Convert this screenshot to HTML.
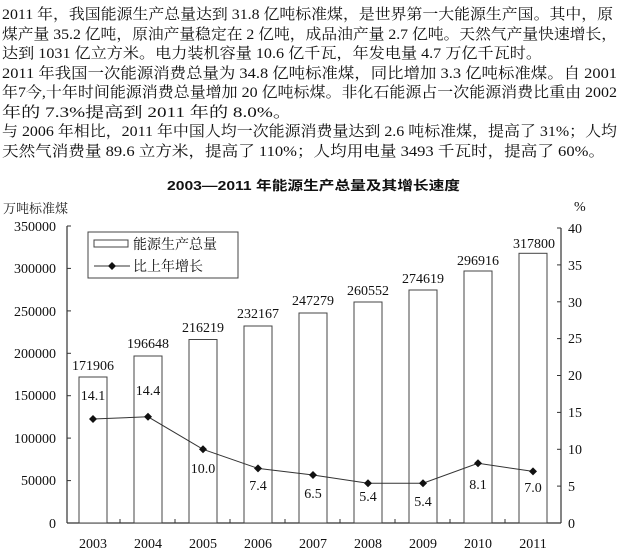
<!DOCTYPE html>
<html><head><meta charset="utf-8"><style>
html,body{margin:0;padding:0;background:#fff;}
svg{display:block;}
.t{font-family:"Liberation Serif","Noto Serif CJK SC","Noto Sans CJK SC",serif;font-size:15px;fill:#111;}
.n{font-family:"Liberation Serif",serif;font-size:14px;fill:#111;}
</style></head><body>
<svg width="620" height="556" viewBox="0 0 620 556" xmlns="http://www.w3.org/2000/svg">
<g class="t">
<text x="2" y="19" textLength="611" lengthAdjust="spacingAndGlyphs">2011 年，我国能源生产总量达到 31.8 亿吨标准煤，是世界第一大能源生产国。其中，原</text>
<text x="2" y="39" textLength="615" lengthAdjust="spacingAndGlyphs">煤产量 35.2 亿吨，原油产量稳定在 2 亿吨，成品油产量 2.7 亿吨。天然气产量快速增长，</text>
<text x="2" y="58" textLength="540" lengthAdjust="spacingAndGlyphs">达到 1031 亿立方米。电力装机容量 10.6 亿千瓦，年发电量 4.7 万亿千瓦时。</text>
<text x="2" y="78" textLength="615" lengthAdjust="spacingAndGlyphs">2011 年我国一次能源消费总量为 34.8 亿吨标准煤，同比增加 3.3 亿吨标准煤。自 2001</text>
<text x="2" y="97" textLength="615" lengthAdjust="spacingAndGlyphs">年7今,十年时间能源消费总量增加 20 亿吨标煤。非化石能源占一次能源消费比重由 2002</text>
<text x="2" y="117" textLength="290" lengthAdjust="spacingAndGlyphs">年的 7.3%提高到 2011 年的 8.0%。</text>
<text x="2" y="136" textLength="615" lengthAdjust="spacingAndGlyphs">与 2006 年相比，2011 年中国人均一次能源消费量达到 2.6 吨标准煤，提高了 31%；人均</text>
<text x="2" y="156" textLength="603" lengthAdjust="spacingAndGlyphs">天然气消费量 89.6 立方米，提高了 110%；人均用电量 3493 千瓦时，提高了 60%。</text>
</g>
<text x="167" y="190" textLength="293" lengthAdjust="spacingAndGlyphs" style="font-family:'Liberation Sans','Noto Sans CJK SC',sans-serif;font-size:13px;font-weight:bold;fill:#111">2003—2011 年能源生产总量及其增长速度</text>
<text x="3" y="213" style="font-family:'Noto Serif CJK SC',serif;font-size:13px;fill:#222">万吨标准煤</text>
<text x="574" y="211" class="n">%</text>
<!-- axes -->
<g stroke="#333" stroke-width="1.2" fill="none">
<line x1="67" y1="226" x2="67" y2="523"/>
<line x1="67" y1="523" x2="561" y2="523"/>
<line x1="561" y1="228" x2="561" y2="523"/>
</g>
<g stroke="#333" stroke-width="1">
<line x1="67" y1="226" x2="71" y2="226"/><line x1="67" y1="268.4" x2="71" y2="268.4"/><line x1="67" y1="310.9" x2="71" y2="310.9"/><line x1="67" y1="353.3" x2="71" y2="353.3"/><line x1="67" y1="395.7" x2="71" y2="395.7"/><line x1="67" y1="438.1" x2="71" y2="438.1"/><line x1="67" y1="480.6" x2="71" y2="480.6"/>
<line x1="557" y1="228" x2="561" y2="228"/><line x1="557" y1="264.9" x2="561" y2="264.9"/><line x1="557" y1="301.8" x2="561" y2="301.8"/><line x1="557" y1="338.6" x2="561" y2="338.6"/><line x1="557" y1="375.5" x2="561" y2="375.5"/><line x1="557" y1="412.4" x2="561" y2="412.4"/><line x1="557" y1="449.3" x2="561" y2="449.3"/><line x1="557" y1="486.1" x2="561" y2="486.1"/>
<line x1="120" y1="519" x2="120" y2="523"/><line x1="175" y1="519" x2="175" y2="523"/><line x1="230" y1="519" x2="230" y2="523"/><line x1="285" y1="519" x2="285" y2="523"/><line x1="340" y1="519" x2="340" y2="523"/><line x1="395" y1="519" x2="395" y2="523"/><line x1="450" y1="519" x2="450" y2="523"/><line x1="505" y1="519" x2="505" y2="523"/>
</g>
<g class="n" text-anchor="end">
<text x="56" y="231">350000</text><text x="56" y="273">300000</text><text x="56" y="316">250000</text><text x="56" y="358">200000</text><text x="56" y="400">150000</text><text x="56" y="443">100000</text><text x="56" y="485">50000</text><text x="56" y="528">0</text>
</g>
<g class="n">
<text x="568" y="233">40</text><text x="568" y="270">35</text><text x="568" y="307">30</text><text x="568" y="343">25</text><text x="568" y="380">20</text><text x="568" y="417">15</text><text x="568" y="454">10</text><text x="568" y="491">5</text><text x="568" y="528">0</text>
</g>
<!-- bars -->
<g fill="#fff" stroke="#444" stroke-width="1">
<rect x="79" y="377" width="28" height="146"/>
<rect x="134" y="356" width="28" height="167"/>
<rect x="189" y="339.5" width="28" height="183.5"/>
<rect x="244" y="326" width="28" height="197"/>
<rect x="299" y="313" width="28" height="210"/>
<rect x="354" y="302" width="28" height="221"/>
<rect x="409" y="290" width="28" height="233"/>
<rect x="464" y="271" width="28" height="252"/>
<rect x="519" y="253.3" width="28" height="269.7"/>
</g>
<g class="n" text-anchor="middle">
<text x="93" y="370">171906</text><text x="148" y="348">196648</text><text x="203" y="332">216219</text><text x="258" y="318">232167</text><text x="313" y="305">247279</text><text x="368" y="295">260552</text><text x="423" y="283">274619</text><text x="478" y="265">296916</text><text x="534" y="248">317800</text>
<text x="93" y="400">14.1</text><text x="148" y="395">14.4</text><text x="203" y="473">10.0</text><text x="258" y="490">7.4</text><text x="313" y="498">6.5</text><text x="368" y="501">5.4</text><text x="423" y="506">5.4</text><text x="478" y="489">8.1</text><text x="533" y="492">7.0</text>
<text x="93" y="548">2003</text><text x="148" y="548">2004</text><text x="203" y="548">2005</text><text x="258" y="548">2006</text><text x="313" y="548">2007</text><text x="368" y="548">2008</text><text x="423" y="548">2009</text><text x="478" y="548">2010</text><text x="533" y="548">2011</text>
</g>
<!-- line -->
<polyline fill="none" stroke="#333" stroke-width="1" points="93,419 148,416.8 203,449.3 258,468.4 313,475 368,483.2 423,483.2 478,463.3 533,471.4"/>
<g fill="#111">
<path d="M93,415 l4,4 l-4,4 l-4,-4z"/><path d="M148,412.8 l4,4 l-4,4 l-4,-4z"/><path d="M203,445.3 l4,4 l-4,4 l-4,-4z"/><path d="M258,464.4 l4,4 l-4,4 l-4,-4z"/><path d="M313,471 l4,4 l-4,4 l-4,-4z"/><path d="M368,479.2 l4,4 l-4,4 l-4,-4z"/><path d="M423,479.2 l4,4 l-4,4 l-4,-4z"/><path d="M478,459.3 l4,4 l-4,4 l-4,-4z"/><path d="M533,467.4 l4,4 l-4,4 l-4,-4z"/>
</g>
<!-- legend -->
<rect x="88" y="232" width="150" height="46" fill="#fff" stroke="#444" stroke-width="1"/>
<rect x="94" y="240" width="34" height="7" fill="#fff" stroke="#444" stroke-width="1"/>
<text x="133" y="249" style="font-family:'Noto Serif CJK SC',serif;font-size:14px;fill:#111">能源生产总量</text>
<line x1="94" y1="266" x2="130" y2="266" stroke="#333" stroke-width="1"/>
<path d="M112,262 l4,4 l-4,4 l-4,-4z" fill="#111"/>
<text x="133" y="271" style="font-family:'Noto Serif CJK SC',serif;font-size:14px;fill:#111">比上年增长</text>
</svg>
</body></html>
